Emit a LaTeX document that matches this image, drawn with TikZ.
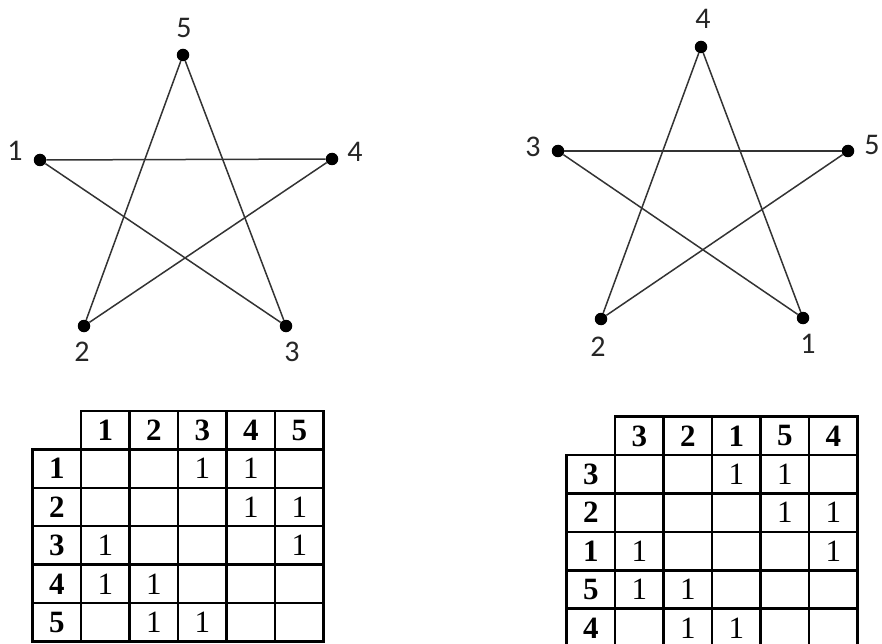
\documentclass[tikz,border=0pt]{standalone}
\usepackage{fontspec}
\setmainfont{Liberation Serif}
\newfontfamily\lblfont{Carlito}
\usetikzlibrary{positioning}

\begin{document}
\begin{tikzpicture}[x=1pt, y=-1pt,
    vtx/.style={circle, fill=black, inner sep=0pt, minimum size=12.5pt},
    lbl/.style={font=\lblfont\fontsize{30}{30}\selectfont, text=black!85, inner sep=0pt},
    edge/.style={draw=black!80, line width=1.5pt},
    cell/.style={draw, line width=2.5pt, minimum width=48.5pt, minimum height=38.4pt, inner sep=0pt},
    hcell/.style={cell, font=\fontsize{31}{31}\selectfont\bfseries},
    val/.style={inner sep=0pt, font=\fontsize{31}{31}\selectfont}
]
\useasboundingbox (0,0) rectangle (882,644);
\clip (0,0) rectangle (882,644);

% left star
\node[vtx] (a5) at (183,55) {};
\node[vtx] (a1) at (40,160) {};
\node[vtx] (a4) at (332,159) {};
\node[vtx] (a2) at (84,326) {};
\node[vtx] (a3) at (286,326) {};
\node[lbl] (a5l) at (184,28) {5};
\node[lbl] (a1l) at (15,151) {1};
\node[lbl] (a4l) at (355,152) {4};
\node[lbl] (a2l) at (82,352) {2};
\node[lbl] (a3l) at (292,352) {3};
\draw[edge] (a5) -- (a2);
\draw[edge] (a5) -- (a3);
\draw[edge] (a1) -- (a4);
\draw[edge] (a1) -- (a3);
\draw[edge] (a4) -- (a2);

% right star
\node[vtx] (b4) at (701,47) {};
\node[vtx] (b3) at (558,151) {};
\node[vtx] (b5) at (848,151) {};
\node[vtx] (b2) at (601,319) {};
\node[vtx] (b1) at (803,318) {};
\node[lbl] (b4l) at (703,19) {4};
\node[lbl] (b3l) at (533,147) {3};
\node[lbl] (b5l) at (872,145) {5};
\node[lbl] (b2l) at (598,347) {2};
\node[lbl] (b1l) at (808,344) {1};
\draw[edge] (b4) -- (b2);
\draw[edge] (b4) -- (b1);
\draw[edge] (b3) -- (b5);
\draw[edge] (b3) -- (b1);
\draw[edge] (b5) -- (b2);

% left table
\foreach \r in {1,...,5}
  \foreach \c in {1,...,5}
    \node[cell] (L-\r-\c) at (32.7+48.5*\c+24.25, 411+38.4*\r+19.2) {};
\foreach \lab [count=\c] in {1,2,3,4,5} {
  \node[hcell] (L-h\c) at (32.7+48.5*\c+24.25, 430.2) {\lab};
  \node[hcell] (L-r\c) at (56.95, 411+38.4*\c+19.2) {\lab};
}
\foreach \r/\c in {1/3,1/4,2/4,2/5,3/1,3/5,4/1,4/2,5/2,5/3}
  \node[val] (L-v\r\c) at (L-\r-\c) {1};

% right table
\foreach \r in {1,...,5}
  \foreach \c in {1,...,5}
    \node[cell] (R-\r-\c) at (566.7+48.5*\c+24.25, 416.7+38.4*\r+19.2) {};
\foreach \lab [count=\c] in {3,2,1,5,4} {
  \node[hcell] (R-h\c) at (566.7+48.5*\c+24.25, 435.9) {\lab};
  \node[hcell] (R-r\c) at (590.95, 416.7+38.4*\c+19.2) {\lab};
}
\foreach \r/\c in {1/3,1/4,2/4,2/5,3/1,3/5,4/1,4/2,5/2,5/3}
  \node[val] (R-v\r\c) at (R-\r-\c) {1};
\end{tikzpicture}
\end{document}
